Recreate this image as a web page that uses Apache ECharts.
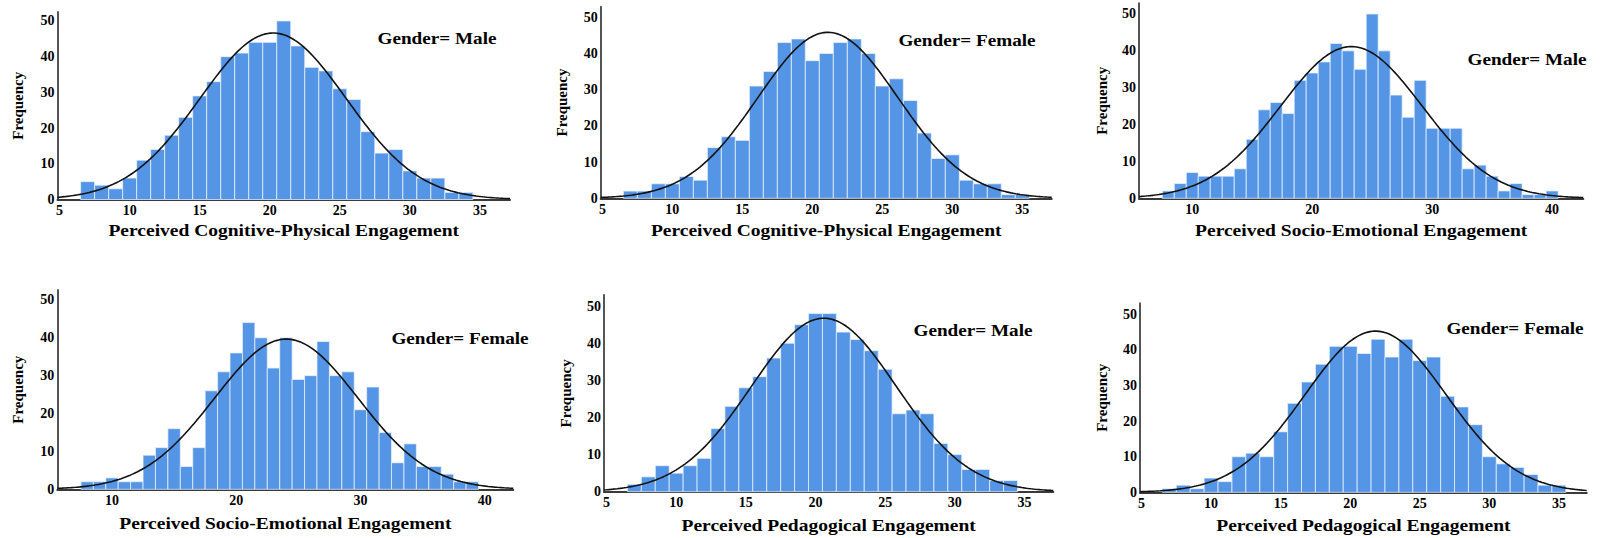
<!DOCTYPE html>
<html>
<head>
<meta charset="utf-8">
<script src="https://cdn.jsdelivr.net/npm/echarts@6/dist/echarts.min.js"></script>
<style>
  html, body { margin: 0; padding: 0; background: #ffffff; }
  #chart { width: 1612px; height: 538px; }
</style>
</head>
<body>
<div id="chart"></div>
<script>
// Frequencies per integer score; each list starts at the given lowest score.
const cpMaleStart = 7;
const cpMale = [5, 4, 3, 6, 11, 14, 18, 23, 29, 33, 40, 41, 44, 44, 50, 43, 37, 36, 31, 28, 19, 13, 14, 8, 6, 6, 2, 2];
const cpFemaleStart = 7;
const cpFemale = [2, 2, 4, 4, 6, 5, 14, 17, 16, 31, 35, 43, 44, 38, 40, 43, 44, 40, 31, 33, 27, 18, 11, 12, 5, 4, 4, 1, 1];
const seMaleStart = 8;
const seMale = [2, 4, 7, 6, 6, 6, 8, 16, 24, 26, 23, 32, 34, 37, 42, 40, 35, 50, 40, 28, 22, 32, 19, 19, 19, 8, 9, 6, 2, 4, 1, 1, 2];
const seFemaleStart = 8;
const seFemale = [2, 2, 3, 2, 2, 9, 11, 16, 6, 11, 26, 31, 36, 44, 40, 32, 40, 29, 30, 39, 30, 31, 21, 27, 15, 7, 12, 6, 6, 4, 2, 2];
const pedMaleStart = 7;
const pedMale = [2, 4, 7, 5, 7, 9, 17, 23, 28, 31, 36, 40, 45, 48, 48, 43, 41, 38, 33, 21, 22, 21, 13, 10, 6, 6, 3, 3];
const pedFemaleStart = 7;
const pedFemale = [1, 2, 1, 4, 3, 10, 11, 10, 17, 25, 31, 36, 41, 41, 39, 43, 38, 43, 37, 38, 27, 24, 19, 10, 8, 7, 5, 2, 2];

// Tick labels
const cpTicks = [5, 10, 15, 20, 25, 30, 35];
const seTicks = [10, 20, 30, 40];
const freqTicks = [0, 10, 20, 30, 40, 50];

const titleCP = 'Perceived Cognitive-Physical Engagement';
const titleSE = 'Perceived Socio-Emotional Engagement';
const titlePed = 'Perceived Pedagogical Engagement';
const male = 'Gender= Male';
const female = 'Gender= Female';

const panels = [
  { title: titleCP,  group: male,   start: cpMaleStart,    counts: cpMale,    ticks: cpTicks },
  { title: titleCP,  group: female, start: cpFemaleStart,  counts: cpFemale,  ticks: cpTicks },
  { title: titleSE,  group: male,   start: seMaleStart,    counts: seMale,    ticks: seTicks },
  { title: titleSE,  group: female, start: seFemaleStart,  counts: seFemale,  ticks: seTicks },
  { title: titlePed, group: male,   start: pedMaleStart,   counts: pedMale,   ticks: cpTicks },
  { title: titlePed, group: female, start: pedFemaleStart, counts: pedFemale, ticks: cpTicks }
];

// Pixel frame of each plot, its axis extents, and where its texts sit.
const frames = [
  { left: 57.5, top: 12,    right: 510,    bottom: 199.5, xMin: 4.85, xMax: 37.15, yMax: 52.5, groupX: 437,  groupY: 39,  titleY: 231,   freqX: 18 },
  { left: 600.7, top: 6.7,  right: 1051.7, bottom: 198.3, xMin: 4.88, xMax: 37.1,  yMax: 52.9, groupX: 967,  groupY: 41,  titleY: 231,   freqX: 562 },
  { left: 1139, top: 3.3,   right: 1583.3, bottom: 198.3, xMin: 5.56, xMax: 42.6,  yMax: 52.9, groupX: 1527, groupY: 60,  titleY: 230.7, freqX: 1102 },
  { left: 57.3, top: 290,   right: 513.3,  bottom: 489.3, xMin: 5.6,  xMax: 42.3,  yMax: 52.6, groupX: 460,  groupY: 339, titleY: 523.3, freqX: 18 },
  { left: 604,  top: 295,   right: 1053.3, bottom: 491.7, xMin: 4.82, xMax: 37.07, yMax: 53,   groupX: 973,  groupY: 331, titleY: 526,   freqX: 566 },
  { left: 1140, top: 303.3, right: 1586.7, bottom: 492.3, xMin: 4.89, xMax: 37.0,  yMax: 53.1, groupX: 1515, groupY: 329, titleY: 525.7, freqX: 1102 }
];

const serif = 'Liberation Serif, serif';
const barFill = '#5595e5';
const barEdge = 'rgba(235, 243, 255, 0.75)';
const axisColor = '#3a3a3a';

function normalFit(start, counts) {
  let n = 0, sum = 0;
  counts.forEach((c, i) => { n += c; sum += c * (start + i); });
  const mean = sum / n;
  let ss = 0;
  counts.forEach((c, i) => { const d = start + i - mean; ss += c * d * d; });
  const sd = Math.sqrt(ss / (n - 1));
  return { n, mean, sd };
}

const grids = [], xAxes = [], yAxes = [], series = [], graphics = [];

panels.forEach((p, k) => {
  const f = frames[k];
  grids.push({
    left: f.left, top: f.top,
    width: f.right - f.left, height: f.bottom - f.top,
    containLabel: false, outerBoundsMode: 'none'
  });
  xAxes.push({
    type: 'value', gridIndex: k, min: f.xMin, max: f.xMax,
    axisLine: { show: true, onZero: false, lineStyle: { color: axisColor, width: 2 } },
    axisTick: { show: false },
    splitLine: { show: false },
    axisLabel: {
      customValues: p.ticks, margin: 4,
      color: '#000', fontFamily: serif, fontWeight: 'bold', fontSize: 14
    }
  });
  yAxes.push({
    type: 'value', gridIndex: k, min: 0, max: f.yMax,
    axisLine: { show: true, lineStyle: { color: '#555', width: 2 } },
    axisTick: { show: false },
    splitLine: { show: false },
    axisLabel: {
      customValues: freqTicks, margin: 3,
      color: '#000', fontFamily: serif, fontWeight: 'bold', fontSize: 14
    }
  });

  const bars = p.counts.map((c, i) => [p.start + i, c]);
  series.push({
    type: 'custom', xAxisIndex: k, yAxisIndex: k, z: 2,
    data: bars, encode: { x: 0, y: 1 },
    renderItem: (params, api) => {
      const score = api.value(0), count = api.value(1);
      const topLeft = api.coord([score - 0.5, count]);
      const baseRight = api.coord([score + 0.5, 0]);
      return {
        type: 'rect',
        shape: { x: topLeft[0], y: topLeft[1], width: baseRight[0] - topLeft[0], height: baseRight[1] - topLeft[1] },
        style: { fill: barFill, stroke: barEdge, lineWidth: 1 }
      };
    }
  });

  // Normal curve fitted to the same scores, scaled to counts per unit bin
  const fit = normalFit(p.start, p.counts);
  const curve = [];
  const steps = 200;
  for (let s = 0; s <= steps; s++) {
    const x = f.xMin + (f.xMax - f.xMin) * s / steps;
    const z = (x - fit.mean) / fit.sd;
    curve.push([x, fit.n * Math.exp(-0.5 * z * z) / (fit.sd * Math.sqrt(2 * Math.PI))]);
  }
  series.push({
    type: 'line', xAxisIndex: k, yAxisIndex: k, z: 5,
    data: curve, showSymbol: false, smooth: false, silent: true,
    lineStyle: { color: '#111', width: 1.6 }
  });

  graphics.push({
    type: 'text', x: f.groupX, y: f.groupY, scaleX: 1.2,
    style: { text: p.group, font: 'bold 16px Liberation Serif, serif', fill: '#000', align: 'center', verticalAlign: 'middle' }
  });
  graphics.push({
    type: 'text', x: (f.left + f.right) / 2, y: f.titleY, scaleX: 1.22,
    style: { text: p.title, font: 'bold 16px Liberation Serif, serif', fill: '#000', align: 'center', verticalAlign: 'middle' }
  });
  graphics.push({
    type: 'text', x: f.freqX, y: (f.top + f.bottom) / 2, rotation: Math.PI / 2,
    style: { text: 'Frequency', font: 'bold 15px Liberation Serif, serif', fill: '#000', align: 'center', verticalAlign: 'middle' }
  });
});

const chart = echarts.init(document.getElementById('chart'), null, { renderer: 'svg' });
chart.setOption({
  animation: false,
  backgroundColor: '#ffffff',
  grid: grids,
  xAxis: xAxes,
  yAxis: yAxes,
  series: series,
  graphic: graphics
});
</script>
</body>
</html>
